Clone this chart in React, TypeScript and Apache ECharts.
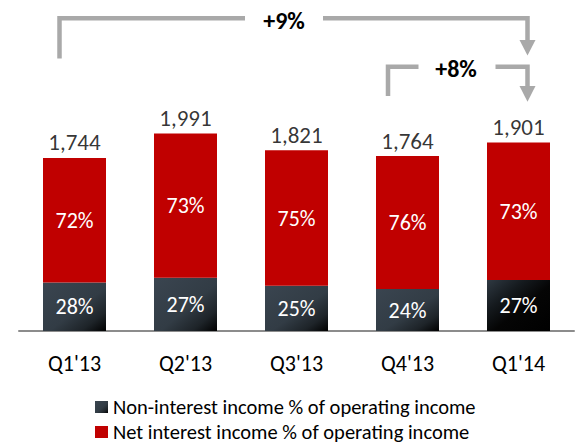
import React, { useEffect, useRef } from "react";
import * as echarts from "echarts";

const categories = ["Q1'13", "Q2'13", "Q3'13", "Q4'13", "Q1'14"];
const totals = [1744, 1991, 1821, 1764, 1901];
const nonInterestPct = [28, 27, 25, 24, 27];
const netInterestPct = [72, 73, 75, 76, 73];
const seriesNames = [
  "Non-interest income % of operating income",
  "Net interest income % of operating income",
];
const growthLabels = ["+9%", "+8%"];

const FONT = "Carlito, Lato, sans-serif";
const ARROW = "#A9A9A9";

const fmt = (n: number) => String(n).replace(/\B(?=(\d{3})+(?!\d))/g, ",");

const darkGrad = new echarts.graphic.LinearGradient(0, 0, 1, 1, [
  { offset: 0, color: "#3A4550" },
  { offset: 0.55, color: "#323C45" },
  { offset: 0.8, color: "#1E2429" },
  { offset: 1, color: "#000000" },
]);
const darkGradLast = new echarts.graphic.LinearGradient(0, 0, 1, 1, [
  { offset: 0, color: "#2F3942" },
  { offset: 0.3, color: "#151A1E" },
  { offset: 0.55, color: "#050505" },
  { offset: 1, color: "#000000" },
]);

export default function App() {
  const ref = useRef<HTMLDivElement>(null);
  useEffect(() => {
    if (!ref.current) return;
    const chart = echarts.init(ref.current, undefined, { renderer: "svg" });
    const nonInterest = totals.map((t, i) => (t * nonInterestPct[i]) / 100);
    const netInterest = totals.map((t, i) => (t * netInterestPct[i]) / 100);

    const lw = 4.5;
    const legendBase = {
      orient: "horizontal",
      left: 95,
      padding: 0,
      itemWidth: 13,
      itemHeight: 12,
      icon: "rect",
      textStyle: { fontFamily: FONT, fontSize: 20.5, lineHeight: 20, color: "#000" },
    };
    const growthText = (x: number, y: number, t: string) => ({
      type: "text",
      x,
      y,
      style: {
        text: t,
        fontFamily: FONT,
        fontSize: 24,
        fontWeight: "bold",
        fill: "#000",
        align: "center",
        verticalAlign: "middle",
      },
    });
    chart.setOption({
      animation: false,
      textStyle: { fontFamily: FONT },
      grid: { left: 19, right: 1, top: 83, bottom: 113, containLabel: false },
      legend: [
        { ...legendBase, top: 396.5, data: [seriesNames[0]] },
        { ...legendBase, top: 421.5, data: [seriesNames[1]] },
      ],
      xAxis: {
        type: "category",
        data: categories,
        axisLine: { show: true, lineStyle: { color: "#8C8C8C", width: 2 } },
        axisTick: { show: false },
        axisLabel: { color: "#000", fontSize: 22, margin: 21, fontFamily: FONT },
      },
      yAxis: {
        type: "value",
        min: 0,
        max: 2500,
        show: false,
        splitLine: { show: false },
      },
      series: [
        {
          name: seriesNames[0],
          type: "bar",
          stack: "total",
          barWidth: 63,
          itemStyle: { color: darkGrad },
          data: nonInterest.map((v, i) =>
            i === nonInterest.length - 1
              ? { value: v, itemStyle: { color: darkGradLast } }
              : { value: v }
          ),
          label: {
            show: true,
            position: "inside",
            color: "#fff",
            fontSize: 22,
            fontFamily: FONT,
            formatter: (p: any) => nonInterestPct[p.dataIndex] + "%",
          },
        },
        {
          name: seriesNames[1],
          type: "bar",
          stack: "total",
          barWidth: 63,
          itemStyle: { color: "#C00000" },
          data: netInterest,
          label: {
            show: true,
            position: "inside",
            color: "#fff",
            fontSize: 22,
            fontFamily: FONT,
            formatter: (p: any) => netInterestPct[p.dataIndex] + "%",
          },
        },
        {
          name: "total",
          type: "scatter",
          symbolSize: 0,
          silent: true,
          itemStyle: { color: "transparent" },
          data: totals,
          label: {
            show: true,
            position: "top",
            distance: 4,
            color: "#000",
            fontSize: 23,
            fontFamily: FONT,
            formatter: (p: any) => fmt(p.value),
          },
        },
      ],
      graphic: [
        {
          type: "polyline",
          shape: { points: [[59.5, 58.5], [59.5, 18.3], [245, 18.3]] },
          style: { stroke: ARROW, lineWidth: lw, fill: null },
        },
        {
          type: "polyline",
          shape: { points: [[323, 18.3], [527.5, 18.3], [527.5, 42]] },
          style: { stroke: ARROW, lineWidth: lw, fill: null },
        },
        {
          type: "polygon",
          shape: { points: [[519.5, 40], [535.5, 40], [527.5, 55.5]] },
          style: { fill: ARROW },
        },
        growthText(284, 20, growthLabels[0]),
        {
          type: "polyline",
          shape: { points: [[388, 96], [388, 66.7], [418.5, 66.7]] },
          style: { stroke: ARROW, lineWidth: lw, fill: null },
        },
        {
          type: "polyline",
          shape: { points: [[495.5, 66.7], [527.5, 66.7], [527.5, 88]] },
          style: { stroke: ARROW, lineWidth: lw, fill: null },
        },
        {
          type: "polygon",
          shape: { points: [[519.5, 86], [535.5, 86], [527.5, 101.7]] },
          style: { fill: ARROW },
        },
        growthText(456, 68, growthLabels[1]),
      ],
    });
    return () => chart.dispose();
  }, []);
  return (
    <div
      ref={ref}
      style={{ position: "fixed", left: 0, top: 0, width: 575, height: 444, background: "#fff" }}
    />
  );
}
